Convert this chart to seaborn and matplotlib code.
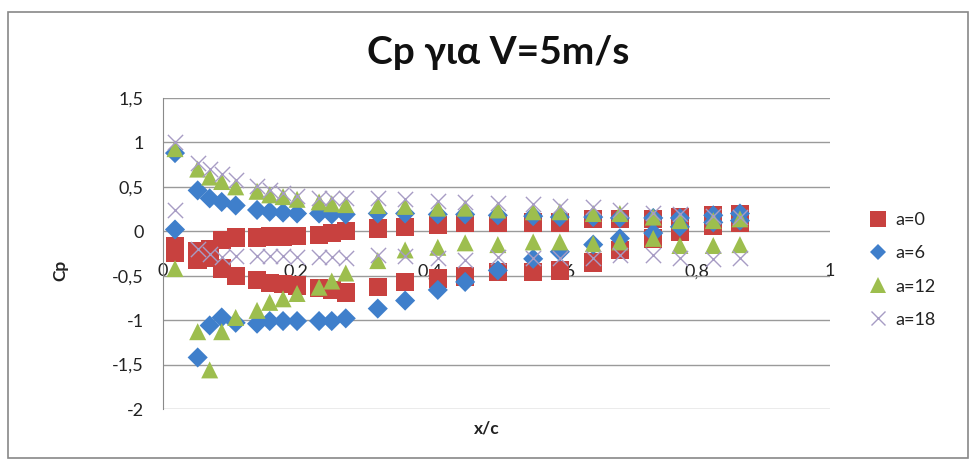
import matplotlib
matplotlib.use("Agg")
import matplotlib.pyplot as plt
import seaborn as sns
import pandas as pd
from matplotlib.lines import Line2D
from matplotlib.patches import Rectangle
from matplotlib.ticker import FuncFormatter

# ---- data ----
x_pos = [0.018, 0.052, 0.070, 0.088, 0.109, 0.141, 0.160, 0.180, 0.201, 0.234, 0.253, 0.274,
         0.322, 0.363, 0.412, 0.453, 0.502, 0.555, 0.595, 0.645, 0.685, 0.735, 0.775, 0.825, 0.865]

a0_upper = [-0.17, -0.22, -0.20, -0.10, -0.07, -0.07, -0.06, -0.06, -0.05, -0.04, -0.02, 0.00,
            0.03, 0.05, 0.07, 0.09, 0.09, 0.10, 0.10, 0.14, 0.14, 0.14, 0.16, 0.18, 0.19]
a0_lower = [-0.24, -0.32, -0.30, -0.42, -0.50, -0.55, -0.58, -0.59, -0.61, -0.64, -0.66, -0.69,
            -0.63, -0.57, -0.53, -0.51, -0.46, -0.46, -0.44, -0.35, -0.21, -0.08, -0.01, 0.06, 0.10]

a6_upper = [0.88, 0.46, 0.37, 0.33, 0.29, 0.24, 0.22, 0.21, 0.20, 0.20, 0.19, 0.19,
            0.20, 0.20, 0.19, 0.19, 0.18, 0.17, 0.16, 0.16, 0.15, 0.15, 0.15, 0.18, 0.20]
a6_lower = [0.02, -1.42, -1.06, -0.97, -1.03, -1.04, -1.01, -1.01, -1.01, -1.01, -1.01, -0.98,
            -0.87, -0.78, -0.66, -0.57, -0.44, -0.31, -0.23, -0.15, -0.08, -0.02, 0.05, 0.10, 0.12]

a12_upper = [0.93, 0.70, 0.61, 0.56, 0.50, 0.45, 0.41, 0.39, 0.36, 0.33, 0.31, 0.30,
             0.29, 0.28, 0.26, 0.26, 0.24, 0.22, 0.22, 0.20, 0.20, 0.16, 0.12, 0.12, 0.14]
a12_lower = [-0.42, -1.13, -1.56, -1.13, -0.97, -0.89, -0.80, -0.76, -0.70, -0.63, -0.56, -0.47,
             -0.33, -0.21, -0.18, -0.13, -0.15, -0.12, -0.12, -0.14, -0.12, -0.08, -0.16, -0.16, -0.15]

a18_upper = [1.00, 0.77, 0.70, 0.65, 0.58, 0.51, 0.47, 0.43, 0.40, 0.38, 0.37, 0.37,
             0.37, 0.36, 0.34, 0.33, 0.32, 0.31, 0.29, 0.27, 0.24, 0.21, 0.19, 0.17, 0.16]
a18_lower = [0.24, -0.20, -0.26, -0.29, -0.28, -0.28, -0.28, -0.28, -0.29, -0.29, -0.29, -0.30,
             -0.27, -0.28, -0.30, -0.32, -0.29, -0.30, -0.30, -0.30, -0.27, -0.27, -0.30, -0.31, -0.30]

series_names = ["a=0", "a=6", "a=12", "a=18"]
x_ticks = [0, 0.2, 0.4, 0.6, 0.8, 1]
y_ticks = [-2, -1.5, -1, -0.5, 0, 0.5, 1, 1.5]

# ---- styling ----
colors = {"a=0": "#C8413F", "a=6": "#3F7FCB", "a=12": "#9DBE4E", "a=18": "#A79CC4"}
markers = {"a=0": "s", "a=6": "D", "a=12": "^", "a=18": "x"}
sizes = {"a=0": 175, "a=6": 105, "a=12": 150, "a=18": 120}

rows = []
for name, up, lo in [("a=0", a0_upper, a0_lower), ("a=6", a6_upper, a6_lower),
                     ("a=12", a12_upper, a12_lower), ("a=18", a18_upper, a18_lower)]:
    for xv, yv in zip(x_pos, up):
        rows.append((name, xv, yv))
    for xv, yv in zip(x_pos, lo):
        rows.append((name, xv, yv))
df = pd.DataFrame(rows, columns=["series", "x/c", "Cp"])

sns.set_style("white")
plt.rcParams["font.family"] = ["Lato", "DejaVu Sans"]

fig = plt.figure(figsize=(9.76, 4.59), dpi=100)
ax = fig.add_axes([163 / 976, 1 - 409 / 459, (830 - 163) / 976, (409 - 98) / 459])

for name in series_names:
    sub = df[df["series"] == name]
    kw = dict(data=sub, x="x/c", y="Cp", ax=ax, color=colors[name], marker=markers[name],
              s=sizes[name], legend=False, zorder=3)
    if markers[name] == "x":
        kw["linewidth"] = 1.0
    else:
        kw["edgecolor"] = "none"
    sns.scatterplot(**kw)

ax.set_xlim(0, 1)
ax.set_ylim(-2, 1.5)
ax.set_yticks(y_ticks)
ax.set_xticks(x_ticks)
fmt = FuncFormatter(lambda v, p: ("%g" % v).replace(".", ","))
ax.xaxis.set_major_formatter(fmt)
ax.yaxis.set_major_formatter(fmt)
ax.grid(axis="y", color="#9a9a9a", linewidth=1.0, zorder=0)
ax.grid(axis="x", visible=False)
for s in ["top", "right", "bottom"]:
    ax.spines[s].set_visible(False)
ax.spines["left"].set_color("#8a8a8a")
ax.spines["left"].set_zorder(1)
ax.tick_params(axis="y", length=0, labelsize=13, colors="#222222", pad=14)
ax.tick_params(axis="x", length=0, labelsize=13, colors="#222222")
ax.spines["bottom"].set_position(("data", 0))
ax.tick_params(axis="x", pad=23)
for lbl in ax.get_xticklabels():
    lbl.set_zorder(5)
ax.set_xlabel("")
ax.set_ylabel("")

fig.text(498 / 976, 1 - 52 / 459, "Cp για V=5m/s", ha="center", va="center",
         fontsize=28, fontweight="bold", color="#111111")
fig.text(487 / 976, 1 - 428 / 459, "x/c", ha="center", va="center",
         fontsize=12.5, fontweight="bold", color="#222222")
fig.text(60 / 976, 1 - 270 / 459, "Cp", ha="center", va="center", rotation=90,
         fontsize=12.5, fontweight="bold", color="#222222")

handles = []
for name in series_names:
    if markers[name] == "x":
        h = Line2D([], [], linestyle="none", marker="x", color=colors[name], markersize=10,
                   markeredgewidth=1.0)
    else:
        h = Line2D([], [], linestyle="none", marker=markers[name], color=colors[name],
                   markersize={"s": 11, "D": 8, "^": 11}[markers[name]], markeredgewidth=0)
    handles.append(h)
fig.legend(handles, series_names, loc="upper left", bbox_to_anchor=(848 / 976, 1 - 196 / 459),
           frameon=False, fontsize=13, handletextpad=0.2, labelspacing=0.95,
           handlelength=1.5, labelcolor="#222222")

fig.patches.append(Rectangle((8 / 976, 1 / 459), 960 / 976, 446 / 459, transform=fig.transFigure,
                             fill=False, edgecolor="#888888", linewidth=1.2))

fig.savefig("out.png", dpi=100)
